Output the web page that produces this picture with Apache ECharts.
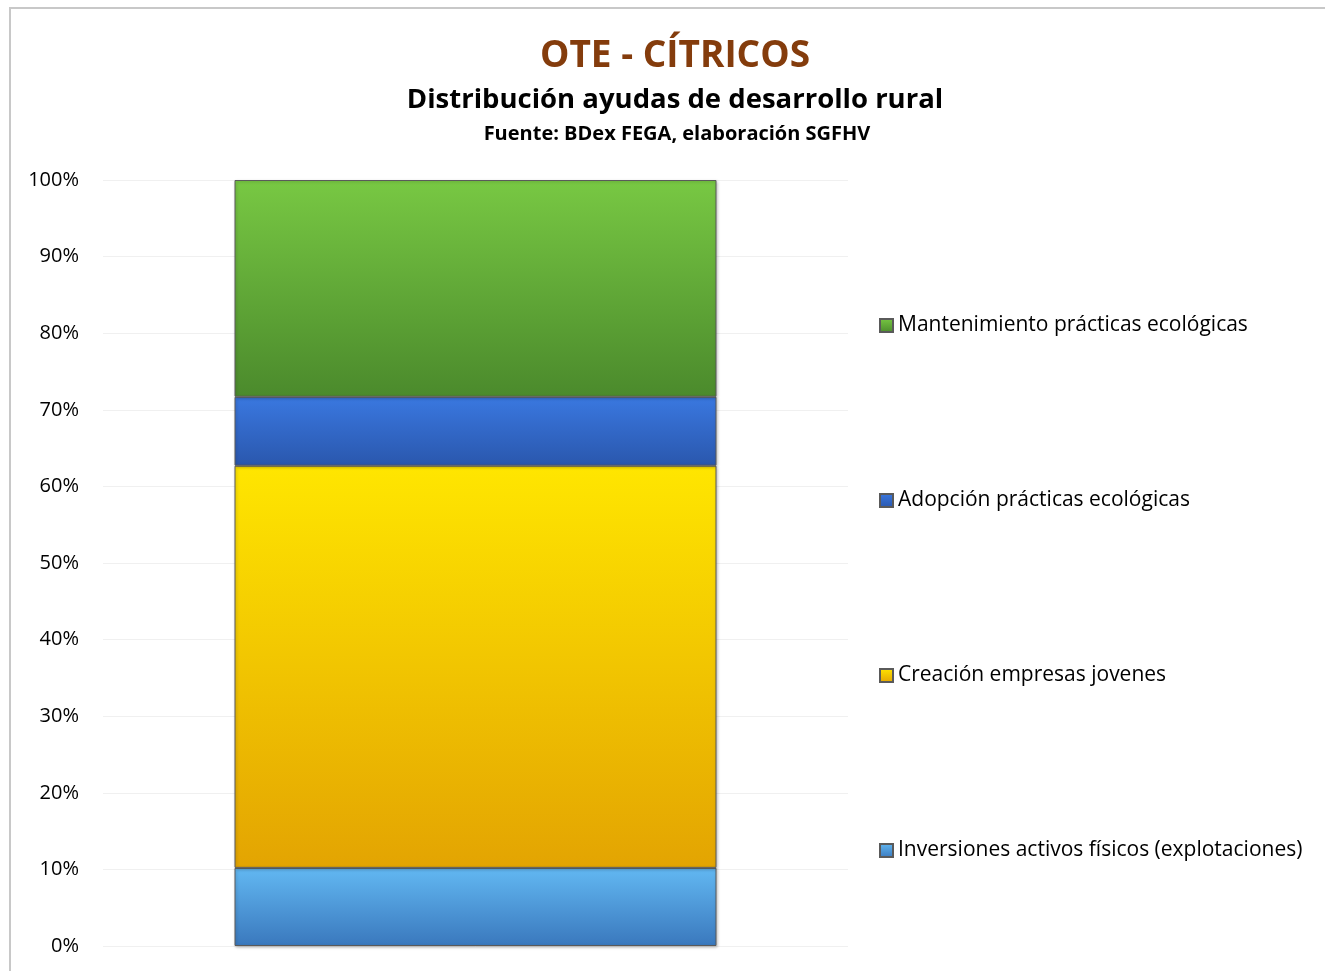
<!DOCTYPE html>
<html>
<head>
<meta charset="utf-8">
<script src="https://cdn.jsdelivr.net/npm/echarts@6/dist/echarts.min.js"></script>
<style>
  html, body { margin: 0; padding: 0; background: #fff; }
  #frame { position: absolute; left: 9px; top: 7px; width: 1330px; height: 980px; border: 2px solid #c8c8c8; box-sizing: border-box; }
  #main { position: absolute; left: 0; top: 0; width: 1325px; height: 971px; }
</style>
</head>
<body>
<div id="frame"></div>
<div id="main"></div>
<script>
// datos (porcentaje del total)
var categorias = ['CÍTRICOS'];
var seriesNombres = [
    'Inversiones activos físicos (explotaciones)',
    'Creación empresas jovenes',
    'Adopción prácticas ecológicas',
    'Mantenimiento prácticas ecológicas'
];
var valores = [10.2, 52.5, 9.0, 28.3];
var ticksY = [0, 10, 20, 30, 40, 50, 60, 70, 80, 90, 100];

// degradados de cada tramo (arriba -> abajo)
var colores = [
    ['#62b8f2', '#3a78bd'],
    ['#ffe600', '#e3a402'],
    ['#3a78e0', '#2a57ad'],
    ['#78c843', '#4b8a2c']
];

function grad(c) {
    return new echarts.graphic.LinearGradient(0, 0, 0, 1, [
        { offset: 0, color: c[0] },
        { offset: 1, color: c[1] }
    ]);
}

var myChart = echarts.init(document.getElementById('main'));

var series = seriesNombres.map(function (nombre, i) {
    return {
        name: nombre,
        type: 'bar',
        stack: 'total',
        barWidth: 482,
        data: [valores[i]],
        itemStyle: {
            color: grad(colores[i]),
            borderColor: '#5a5a5a',
            borderWidth: 1,
            shadowColor: 'rgba(0,0,0,0.25)',
            shadowBlur: 3,
            shadowOffsetX: 1,
            shadowOffsetY: 1
        }
    };
});

// el bloque de títulos está centrado en x = 675
var centroTitulo = 675;

var option = {
    animation: false,
    title: [
        {
            text: 'OTE - CÍTRICOS',
            left: centroTitulo,
            textAlign: 'center',
            top: 38,
            padding: 0,
            textStyle: { fontFamily: 'Open Sans', fontSize: 37, fontWeight: 'bold', color: '#843c0c' }
        },
        {
            text: 'Distribución ayudas de desarrollo rural',
            left: centroTitulo,
            textAlign: 'center',
            top: 86,
            padding: 0,
            textStyle: { fontFamily: 'Open Sans', fontSize: 27.5, fontWeight: 'bold', color: '#000' }
        },
        {
            text: 'Fuente: BDex FEGA, elaboración SGFHV',
            left: centroTitulo + 2,
            textAlign: 'center',
            top: 124,
            padding: 0,
            textStyle: { fontFamily: 'Open Sans', fontSize: 20, fontWeight: 'bold', color: '#000' }
        }
    ],
    legend: {
        orient: 'vertical',
        left: 874,
        top: 310,
        icon: 'rect',
        itemWidth: 13,
        itemHeight: 13,
        itemGap: 154,
        data: seriesNombres.slice().reverse(),
        textStyle: { fontFamily: 'Open Sans', fontSize: 21, color: '#000' }
    },
    grid: {
        left: 103,
        right: 477,
        top: 180,
        bottom: 25,
        containLabel: false
    },
    xAxis: {
        type: 'category',
        data: categorias,
        axisLine: { show: false },
        axisTick: { show: false },
        axisLabel: { show: false }
    },
    yAxis: {
        type: 'value',
        min: 0,
        max: 100,
        interval: 10,
        axisLine: { show: false },
        axisTick: { show: false },
        axisLabel: {
            formatter: function (v) { return ticksY.indexOf(v) >= 0 ? v + '%' : ''; },
            fontFamily: 'Open Sans',
            fontSize: 20,
            color: '#000',
            margin: 24
        },
        splitLine: { lineStyle: { color: '#f0f0f0', width: 1 } }
    },
    series: series
};

myChart.setOption(option);
</script>
</body>
</html>
